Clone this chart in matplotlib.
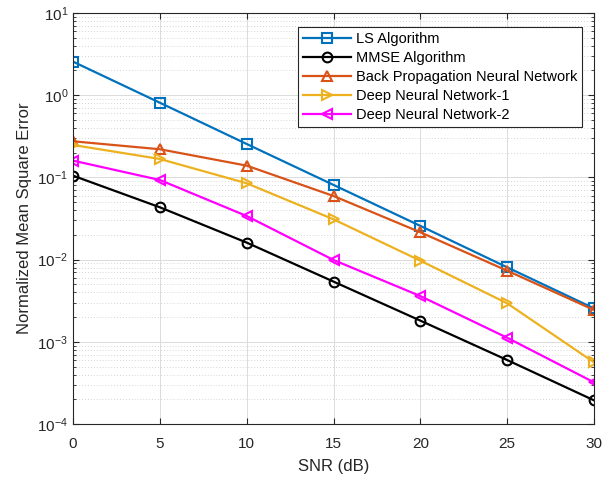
import matplotlib
matplotlib.use("Agg")
import matplotlib.pyplot as plt
from matplotlib.ticker import LogLocator, NullFormatter

plt.rcParams['font.family'] = ['Liberation Sans', 'DejaVu Sans']

snr = [0, 5, 10, 15, 20, 25, 30]
ls_alg = [2.56, 0.81, 0.255, 0.081, 0.0257, 0.00805, 0.00255]
mmse_alg = [0.105, 0.0433, 0.0161, 0.0054, 0.00181, 0.0006, 0.000194]
bpnn = [0.275, 0.22, 0.139, 0.0594, 0.0215, 0.00733, 0.00244]
dnn1 = [0.248, 0.1675, 0.0848, 0.0309, 0.0097, 0.00294, 0.000562]
dnn2 = [0.16, 0.093, 0.0339, 0.00989, 0.0036, 0.00112, 0.000321]

series = [
    ("LS Algorithm", ls_alg, (0, 0.447, 0.741), "s"),
    ("MMSE Algorithm", mmse_alg, (0, 0, 0), "o"),
    ("Back Propagation Neural Network", bpnn, (0.85, 0.325, 0.098), "^"),
    ("Deep Neural Network-1", dnn1, (0.929, 0.694, 0.125), ">"),
    ("Deep Neural Network-2", dnn2, (1, 0, 1), "<"),
]

fig = plt.figure(figsize=(6.16, 4.79), dpi=100)
ax = fig.add_axes([0.1185, 0.1148, 0.8458, 0.8581])

for name, vals, col, mk in series:
    ax.semilogy(snr, vals, color=col, marker=mk, markersize=7, markerfacecolor='none',
                markeredgewidth=1.5, linewidth=1.6, label=name)

ax.set_xlim(0, 30)
ax.set_ylim(1e-4, 1e1)
ax.set_xticks([0, 5, 10, 15, 20, 25, 30])
ax.yaxis.set_major_locator(LogLocator(base=10, numticks=10))
ax.yaxis.set_minor_locator(LogLocator(base=10, subs=range(2, 10), numticks=20))
ax.yaxis.set_minor_formatter(NullFormatter())

ax.grid(True, which='major', color=(0.86, 0.86, 0.86), linewidth=0.7)
ax.grid(True, which='minor', axis='y', color=(0.78, 0.78, 0.78), linestyle=(0, (1, 2.5)), linewidth=0.6)
ax.set_axisbelow(True)

ax.tick_params(which='both', direction='in', top=True, right=True, labelsize=11, colors=(0.15, 0.15, 0.15))
ax.tick_params(which='major', length=4)
ax.tick_params(which='minor', length=2)
ax.tick_params(axis='x', pad=9)
for sp in ax.spines.values():
    sp.set_color((0.15, 0.15, 0.15))
    sp.set_linewidth(0.8)

ax.set_xlabel("SNR (dB)", fontsize=12, color=(0.15, 0.15, 0.15), labelpad=6)
ax.set_ylabel("Normalized Mean Square Error", fontsize=12, color=(0.15, 0.15, 0.15))

leg = ax.legend(loc='upper right', bbox_to_anchor=(0.977, 0.967), borderaxespad=0, fontsize=10.5,
                fancybox=False, framealpha=1, edgecolor=(0.15, 0.15, 0.15), handlelength=3.3,
                borderpad=0.35, labelspacing=0.35, handletextpad=0.3)
leg.get_frame().set_linewidth(0.8)

fig.savefig("out.png", dpi=100)
